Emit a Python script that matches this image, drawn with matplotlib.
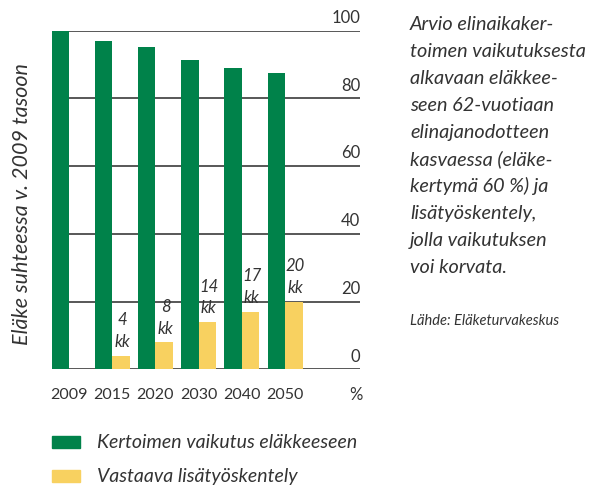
import matplotlib.pyplot as plt
import numpy as np

plt.rcParams['font.family'] = ['Lato', 'DejaVu Sans']

# data
years = ['2009', '2015', '2020', '2030', '2040', '2050']
kerroin = [100, 97.0, 95.2, 91.3, 89.0, 87.5]   # Kertoimen vaikutus eläkkeeseen
lisatyo = [0, 4, 8, 14, 17, 20]                  # Vastaava lisätyöskentely (kk)
ticks = [0, 20, 40, 60, 80, 100]

green = '#00824a'
yellow = '#f8d160'
txt = '#333333'

W, H = 589, 486
fig = plt.figure(figsize=(W / 100, H / 100), dpi=100)
ax = fig.add_axes([51.5 / W, 1 - 369.3 / H, (360 - 51.5) / W, (369.3 - 30.7) / H])

w = 0.405
x = np.arange(len(years))
xmin, xmax = -w, 6.735
ax.set_xlim(xmin, xmax)
ax.set_ylim(0, 100)
ax.axis('off')

# gridlines + right side labels
for t in ticks:
    ax.hlines(t, xmin, xmax, color='#2a2a2a', lw=1.1, zorder=1)
    ax.text(xmax, t + 1.4, str(t), ha='right', va='bottom', fontsize=12,
            color=txt)

ax.bar(x - w / 2, kerroin, width=w, color=green, zorder=2)
ax.bar(x[1:] + w / 2, lisatyo[1:], width=w, color=yellow, zorder=2)

for i in range(1, len(years)):
    ax.text(x[i] + w / 2 + 0.03, lisatyo[i] + 1.6, f'{lisatyo[i]}\nkk', ha='center',
            va='bottom', fontsize=12, style='italic', color=txt, linespacing=1.45)

for i, y in enumerate(years):
    ax.text(x[i], -7.6, y, ha='center', va='center', fontsize=11.5, color=txt,
            clip_on=False)
ax.text(xmax + 0.05, -7.6, '%', ha='right', va='center', fontsize=12, color=txt,
        clip_on=False)

# y label
fig.text(22 / W, 1 - 204 / H, 'Eläke suhteessa v. 2009 tasoon', rotation=90,
         ha='center', va='center', fontsize=15.5, style='italic', color=txt)

# legend
for yy, col, lab in [(442, green, 'Kertoimen vaikutus eläkkeeseen'),
                     (476, yellow, 'Vastaava lisätyöskentely')]:
    fig.patches.append(plt.Rectangle((52 / W, 1 - (yy + 6) / H), 28 / W, 12 / H,
                                     color=col, transform=fig.transFigure))
    fig.text(97 / W, 1 - yy / H, lab, ha='left', va='center', fontsize=14,
             style='italic', color=txt)

# side text
side = ['Arvio elinaikaker-', 'toimen vaikutuksesta', 'alkavaan eläkkee-',
        'seen 62-vuotiaan', 'elinajanodotteen', 'kasvaessa (eläke-',
        'kertymä 60 %) ja', 'lisätyöskentely,', 'jolla vaikutuksen',
        'voi korvata.']
for k, line in enumerate(side):
    fig.text(410 / W, 1 - (25 + 26.9 * k) / H, line, ha='left', va='center',
             fontsize=14.3, style='italic', color=txt)
fig.text(410 / W, 1 - 321 / H, 'Lähde: Eläketurvakeskus', ha='left', va='center',
         fontsize=10.5, style='italic', color=txt)

fig.savefig('out.png', dpi=100)
